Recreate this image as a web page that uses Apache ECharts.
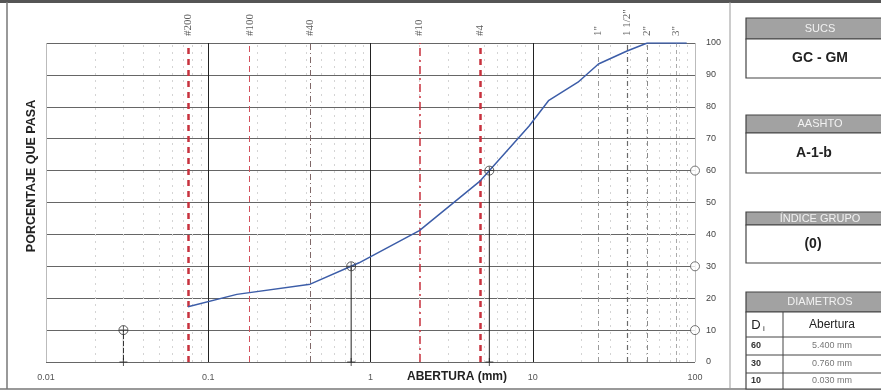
<!DOCTYPE html>
<html>
<head>
<meta charset="utf-8">
<script src="https://cdn.jsdelivr.net/npm/echarts@6/dist/echarts.min.js"></script>
<style>
  html, body { margin: 0; padding: 0; background: #ffffff; }
  #chart { width: 881px; height: 392px; }
</style>
</head>
<body>
<div id="chart"></div>
<script>
// ---- data ----
var gradAbertura = [0.075, 0.15, 0.425, 0.85, 2.0, 4.75, 9.5, 12.5, 19.0, 25.4, 38.1, 50.8, 76.2, 88.9];
var gradPasa     = [17.3, 21.2, 24.4, 31.1, 41.2, 56.8, 74.0, 81.9, 87.7, 93.4, 97.5, 100, 100, 100];

var sieveSizes  = [0.075, 0.18, 0.425, 2.0, 4.75, 25.4, 38.1, 50.8, 76.2];
var sieveLabels = ['#200', '#100', '#40', '#10', '#4', '1"', '1 1/2"', '2"', '3"'];

var dLevels = [60, 30, 10];
var dValues = [5.4, 0.76, 0.03];

var xTickValues = [0.01, 0.1, 1, 10, 100];
var xTickLabels = ['0.01', '0.1', '1', '10', '100'];
var minorMultipliers = [2, 3, 4, 5, 6, 7, 8, 9];

var sucs = 'GC - GM';
var aashto = 'A-1-b';
var indiceGrupo = '(0)';

// ---- styles for sieve lines ----
var sieveStyles = [
  { color: '#c8323e', width: 2.5, type: [6, 5] },
  { color: '#d2505c', width: 1, type: [6, 4] },
  { color: '#806868', width: 1, type: [6, 3, 1, 3] },
  { color: '#c8323e', width: 1.5, type: [8, 4, 2, 4] },
  { color: '#c8323e', width: 2.5, type: [6, 5] },
  { color: '#9a9a9a', width: 1, type: [5, 3, 1, 3] },
  { color: '#6a6a6a', width: 1.2, type: [5, 3, 1, 3] },
  { color: '#8a8a8a', width: 1, type: [5, 3, 1, 3] },
  { color: '#aaaaaa', width: 1, type: [4, 3] }
];

var chart = echarts.init(document.getElementById('chart'));

var minorLines = [];
for (var k = 0; k < xTickValues.length - 1; k++) {
  for (var m = 0; m < minorMultipliers.length; m++) {
    minorLines.push({ xAxis: xTickValues[k] * minorMultipliers[m] });
  }
}

var sieveLines = sieveSizes.map(function (s, i) {
  return { xAxis: s, lineStyle: sieveStyles[i] };
});

var plusPath = 'path://M4.4,0H5.6V10H4.4Z M0,4.4H10V5.6H0Z';

var series = [];

// minor grid lines
series.push({
  type: 'line', data: [], silent: true,
  markLine: {
    silent: true, symbol: 'none', label: { show: false }, precision: 6,
    lineStyle: { color: '#d4d4d4', width: 1, type: [2, 5] },
    data: minorLines, animation: false
  }
});

// sieve lines
series.push({
  type: 'line', data: [], silent: true,
  markLine: {
    silent: true, symbol: 'none', label: { show: false }, precision: 6,
    data: sieveLines, animation: false
  }
});

// sieve labels at top
series.push({
  type: 'scatter', silent: true, clip: false,
  symbolSize: 0,
  data: sieveSizes.map(function (s, i) { return { value: [s, 100], name: sieveLabels[i] }; }),
  label: {
    show: true, position: 'top', distance: 7, rotate: 90,
    align: 'left', verticalAlign: 'middle',
    formatter: function (p) { return p.name; },
    fontFamily: 'Liberation Serif', fontSize: 11, color: '#333'
  },
  z: 5
});

// drop lines for D values
dValues.forEach(function (d, i) {
  series.push({
    type: 'line', silent: true, symbol: 'none',
    data: [[d, dLevels[i]], [d, 0]],
    lineStyle: { color: '#222', width: 1 },
    z: 4
  });
});

// gradation curve
series.push({
  type: 'line', silent: true, symbol: 'none',
  data: gradAbertura.map(function (x, i) { return [x, gradPasa[i]]; }),
  lineStyle: { color: '#3c5da8', width: 1.5 },
  z: 6
});

// circle markers on curve
series.push({
  type: 'scatter', silent: true, clip: false,
  symbol: 'circle', symbolSize: 9,
  data: dValues.map(function (d, i) { return [d, dLevels[i]]; }),
  itemStyle: { color: 'rgba(0,0,0,0)', borderColor: '#333', borderWidth: 1 },
  z: 7
});
series.push({
  type: 'scatter', silent: true, clip: false,
  symbol: plusPath, symbolSize: 8,
  data: dValues.map(function (d, i) { return [d, dLevels[i]]; }),
  itemStyle: { color: '#333' },
  z: 7
});
// plus at bottom of drop lines
series.push({
  type: 'scatter', silent: true, clip: false,
  symbol: plusPath, symbolSize: 8,
  data: dValues.map(function (d) { return [d, 0]; }),
  itemStyle: { color: '#222' },
  z: 7
});
// circles on right axis
series.push({
  type: 'scatter', silent: true, clip: false,
  symbol: 'circle', symbolSize: 9,
  data: dLevels.map(function (l) { return [xTickValues[xTickValues.length - 1], l]; }),
  itemStyle: { color: '#fff', borderColor: '#555', borderWidth: 1 },
  z: 7
});

// ---- graphic panels ----
var g = [];
function rect(x, y, w, h, fill, stroke, lw) {
  g.push({ type: 'rect', shape: { x: x, y: y, width: w, height: h }, style: { fill: fill, stroke: stroke, lineWidth: lw || 1 }, silent: true });
}
function text(t, x, y, font, fill, align, rot) {
  var el = {
    type: 'text', x: x, y: y, silent: true,
    style: { text: t, font: font, fill: fill, align: align || 'center', verticalAlign: 'middle', textAlign: align || 'center', textVerticalAlign: 'middle' }
  };
  if (rot) el.rotation = rot;
  g.push(el);
}
function line(x1, y1, x2, y2, stroke, lw) {
  g.push({ type: 'line', shape: { x1: x1, y1: y1, x2: x2, y2: y2 }, style: { stroke: stroke, lineWidth: lw || 1 }, silent: true });
}

// frame
line(0, 1.5, 881, 1.5, '#555', 3);
line(7, 2, 7, 389, '#777', 1.5);
line(0, 389, 881, 389, '#777', 1.5);
line(730, 2, 730, 389, '#999', 1);

// axis titles
text('PORCENTAJE QUE PASA', 32, 176, 'bold 12.5px "Liberation Sans", Arial, sans-serif', '#222', 'center', Math.PI / 2);
text('ABERTURA (mm)', 457, 377, 'bold 12px "Liberation Sans", Arial, sans-serif', '#222', 'center');

var bx = 746, bw = 140;
var hdrFill = '#a2a2a2', hdrText = '#f2f2f2', bd = '#444';
var hdrFont = '11px "Liberation Sans", Arial, sans-serif';
var valFont = 'bold 14px "Liberation Sans", Arial, sans-serif';

// SUCS
rect(bx, 18, bw, 21, hdrFill, bd, 1.2);
text('SUCS', 820, 28.5, hdrFont, hdrText);
rect(bx, 39, bw, 39, '#fff', bd, 1.2);
text(sucs, 820, 58.5, valFont, '#222');

// AASHTO
rect(bx, 115, bw, 18, hdrFill, bd, 1.2);
text('AASHTO', 820, 124, hdrFont, hdrText);
rect(bx, 133, bw, 40, '#fff', bd, 1.2);
text(aashto, 814, 153, valFont, '#222');

// INDICE GRUPO
rect(bx, 212, bw, 13, hdrFill, bd, 1.2);
text('ÍNDICE GRUPO', 820, 218.5, hdrFont, hdrText);
rect(bx, 225, bw, 38, '#fff', bd, 1.2);
text(indiceGrupo, 813, 244, valFont, '#222');

// DIAMETROS table
rect(bx, 292, bw, 20, hdrFill, bd, 1.2);
text('DIAMETROS', 820, 302, hdrFont, hdrText);
rect(bx, 312, bw, 77, '#fff', bd, 1.2);
line(bx, 337, bx + bw, 337, bd, 1);
line(bx, 355, bx + bw, 355, bd, 1);
line(bx, 373, bx + bw, 373, bd, 1);
line(783, 312, 783, 389, bd, 1);
text('D', 756, 325, '13px "Liberation Sans", Arial, sans-serif', '#222');
text('i', 764, 329, '8px "Liberation Sans", Arial, sans-serif', '#222');
text('Abertura', 832, 324.5, '12px "Liberation Sans", Arial, sans-serif', '#222');
var rowY = [346, 364, 381];
dLevels.forEach(function (l, i) {
  text(String(l), 756, rowY[i], 'bold 9px "Liberation Sans", Arial, sans-serif', '#333');
  text(dValues[i].toFixed(3) + ' mm', 832, rowY[i], '9px "Liberation Sans", Arial, sans-serif', '#777');
});

var option = {
  animation: false,
  backgroundColor: '#ffffff',
  grid: { left: 46, right: 186, top: 43, bottom: 30, containLabel: false },
  xAxis: {
    type: 'log', logBase: 10, min: 0.01, max: 100,
    axisLine: { show: false }, axisTick: { show: false },
    axisLabel: {
      fontSize: 9, color: '#555', margin: 11, fontFamily: '"Liberation Sans", Arial, sans-serif',
      formatter: function (v) {
        for (var i = 0; i < xTickValues.length; i++) {
          if (Math.abs(Math.log10(v) - Math.log10(xTickValues[i])) < 1e-6) return xTickLabels[i];
        }
        return '';
      }
    },
    splitLine: { show: true, lineStyle: { color: ['#bbbbbb', '#222', '#222', '#222', '#bbbbbb'], width: 1 } }
  },
  yAxis: {
    type: 'value', position: 'right', min: 0, max: 100, interval: 10,
    axisLine: { show: false }, axisTick: { show: false },
    axisLabel: { fontSize: 9, color: '#444', margin: 11, fontFamily: '"Liberation Sans", Arial, sans-serif' },
    splitLine: { show: true, lineStyle: { color: '#666', width: 1 } }
  },
  series: series,
  graphic: g
};
chart.setOption(option);
</script>
</body>
</html>
